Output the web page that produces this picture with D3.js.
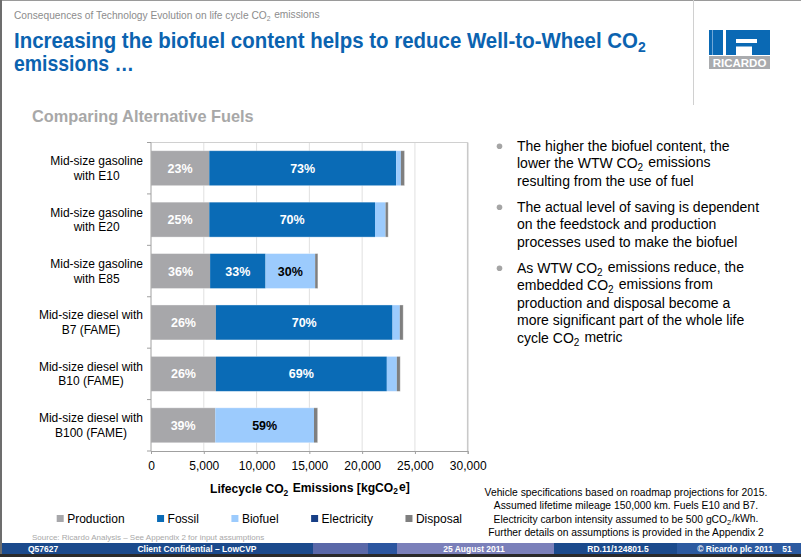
<!DOCTYPE html>
<html><head><meta charset="utf-8">
<script src="https://cdn.jsdelivr.net/npm/d3@7"></script>
<style>
html,body{margin:0;padding:0;background:#fff;}
svg{display:block;font-family:"Liberation Sans",Arial,sans-serif;}
</style></head>
<body><svg id="c" width="801" height="557"></svg>
<script>
// ---------- data ----------
const categories = [
  "Mid-size gasoline|with E10",
  "Mid-size gasoline|with E20",
  "Mid-size gasoline|with E85",
  "Mid-size diesel with|B7 (FAME)",
  "Mid-size diesel with|B10 (FAME)",
  "Mid-size diesel with|B100 (FAME)"
];
const production  = [5520, 5520, 5600, 6150, 6150, 6090];
const fossil      = [17700, 15700, 5250, 16730, 16190, 0];
const biofuel     = [450, 1000, 4700, 690, 950, 9350];
const electricity = [0, 0, 0, 0, 0, 0];
const disposal    = [350, 250, 260, 320, 320, 350];
const productionLabels = ["23%", "25%", "36%", "26%", "26%", "39%"];
const fossilLabels     = ["73%", "70%", "33%", "70%", "69%", ""];
const biofuelLabels    = ["", "", "30%", "", "", "59%"];
const seriesNames = ["Production", "Fossil", "Biofuel", "Electricity", "Disposal"];
const seriesColors = ["#a7a7aa", "#0a6bb6", "#9ccbfd", "#173f86", "#7f7f7f"];
const xTicks = [0, 5000, 10000, 15000, 20000, 25000, 30000];
const bullets = [
  ["The higher the biofuel content, the", "lower the WTW CO{2} emissions", "resulting from the use of fuel"],
  ["The actual level of saving is dependent", "on the feedstock and production", "processes used to make the biofuel"],
  ["As WTW CO{2} emissions reduce, the", "embedded CO{2} emissions from", "production and disposal become a", "more significant part of the whole life", "cycle CO{2} metric"]
];
const notes = [
  "Vehicle specifications based on roadmap projections for 2015.",
  "Assumed lifetime mileage 150,000 km.  Fuels E10 and B7.",
  "Electricity carbon intensity assumed to be 500 gCO{2}/kWh.",
  "Further details on assumptions is provided in the Appendix 2"
];
const footer = ["Q57627", "Client Confidential – LowCVP", "25 August 2011", "RD.11/124801.5", "© Ricardo plc 2011", "51"];

// ---------- helpers ----------
const svg = d3.select("#c");
function richText(sel, str, subSize) {
  const parts = str.split(/(\{[^}]*\})/);
  parts.forEach(p => {
    if (!p) return;
    if (p[0] === "{") {
      sel.append("tspan").attr("dy", "0.3em").attr("font-size", subSize).text(p.slice(1, -1));
      sel.append("tspan").attr("dy", "-0.3em").text("\u200A");
    } else sel.append("tspan").text(p);
  });
  return sel;
}
function fitWidth(sel, x0, target) {
  const w = sel.node().getBBox().width;
  if (w > 0) {
    const k = target / w;
    sel.attr("transform", `translate(${x0},0) scale(${k},1) translate(${-x0},0)`);
  }
}

// ---------- frame / header ----------
svg.append("rect").attr("x", 0).attr("y", 0).attr("width", 801).attr("height", 1).attr("fill", "#9a9a9a");
svg.append("rect").attr("x", 0).attr("y", 0).attr("width", 2).attr("height", 557).attr("fill", "#6d6d6d");
svg.append("line").attr("x1", 693.5).attr("x2", 693.5).attr("y1", 0).attr("y2", 105).attr("stroke", "#d0d0d0");

const sub = svg.append("text").attr("x", 14).attr("y", 19).attr("font-size", 10.5).attr("fill", "#8c8c8c");
richText(sub, "Consequences of Technology Evolution on life cycle CO{2} emissions", 7);
fitWidth(sub, 14, 306);

const t1 = svg.append("text").attr("x", 14).attr("y", 48).attr("font-size", 22).attr("font-weight", "bold")
  .attr("fill", "#0b63b0").attr("font-family", "'Liberation Sans Narrow','Arial Narrow','Liberation Sans',Arial,sans-serif");
richText(t1, "Increasing the biofuel content helps to reduce Well-to-Wheel CO{2}", 15);
fitWidth(t1, 14, 634);
const t2 = svg.append("text").attr("x", 14).attr("y", 71).attr("font-size", 22).attr("font-weight", "bold")
  .attr("fill", "#0b63b0").attr("font-family", "'Liberation Sans Narrow','Arial Narrow','Liberation Sans',Arial,sans-serif")
  .text("emissions …");
fitWidth(t2, 14, 120);

// logo
const logo = svg.append("g");
logo.append("rect").attr("x", 709).attr("y", 30).attr("width", 61).attr("height", 25).attr("fill", "#0a69b4");
logo.append("rect").attr("x", 723).attr("y", 30).attr("width", 3).attr("height", 25).attr("fill", "#fff");
logo.append("rect").attr("x", 712).attr("y", 30).attr("width", 0.8).attr("height", 25).attr("fill", "#8db8e0");
logo.append("rect").attr("x", 736).attr("y", 39).attr("width", 21).attr("height", 4).attr("fill", "#fff");
logo.append("rect").attr("x", 736).attr("y", 46.5).attr("width", 16).attr("height", 8.5).attr("fill", "#fff");
logo.append("rect").attr("x", 709).attr("y", 56).attr("width", 61).attr("height", 13).attr("fill", "#a9abae");
logo.append("text").attr("x", 739.5).attr("y", 66.5).attr("text-anchor", "middle").attr("font-size", 11.5)
  .attr("font-weight", "bold").attr("fill", "#fff").attr("font-family", "'Liberation Sans Narrow','Liberation Sans',Arial")
  .text("RICARDO");

const h = svg.append("text").attr("x", 32).attr("y", 122).attr("font-size", 16).attr("font-weight", "bold")
  .attr("fill", "#a8a8a8").text("Comparing Alternative Fuels");
fitWidth(h, 32, 222);

// ---------- chart ----------
const x = d3.scaleLinear().domain([0, 30000]).range([151, 467.7]);
const y = d3.scaleBand().domain(categories).range([142.5, 451]).paddingInner(0.32).paddingOuter(0.16);

svg.append("g").selectAll("line").data(xTicks.slice(1)).join("line")
  .attr("x1", d => x(d)).attr("x2", d => x(d)).attr("y1", 142.5).attr("y2", 451)
  .attr("stroke", d => d === 30000 ? "#c9c9c9" : "#e0e0e0").attr("stroke-width", d => d === 30000 ? 1.6 : 1);
svg.append("line").attr("x1", 151).attr("x2", 468).attr("y1", 142.5).attr("y2", 142.5).attr("stroke", "#d0d0d0");

const rows = categories.map((c, i) => ({cat: c, vals: [production[i], fossil[i], biofuel[i], electricity[i], disposal[i]]}));
const stack = d3.stack().keys(d3.range(5)).value((d, k) => d.vals[k]);
const stacked = stack(rows);
const barG = svg.append("g");
stacked.forEach((layer, k) => {
  barG.append("g").selectAll("rect").data(layer).join("rect")
    .attr("x", d => x(d[0])).attr("width", d => x(d[1]) - x(d[0]))
    .attr("y", d => y(d.data.cat)).attr("height", y.bandwidth())
    .attr("fill", seriesColors[k]);
});
barG.append("g").selectAll("rect").data(rows).join("rect")
  .attr("x", x(0)).attr("y", d => y(d.cat))
  .attr("width", d => x(d3.sum(d.vals)) - x(0)).attr("height", y.bandwidth())
  .attr("fill", "none").attr("stroke", "rgba(255,255,255,0.45)").attr("stroke-width", 0.8);

const labelSets = [productionLabels, fossilLabels, biofuelLabels];
const labelColors = ["#fff", "#fff", "#000"];
labelSets.forEach((labels, k) => {
  svg.append("g").selectAll("text").data(stacked[k]).join("text")
    .attr("x", d => (x(d[0]) + x(d[1])) / 2).attr("y", d => y(d.data.cat) + y.bandwidth() / 2 + 4.5)
    .attr("text-anchor", "middle").attr("font-size", 12.5).attr("font-weight", "bold")
    .attr("fill", labelColors[k]).text((d, i) => labels[i]);
});

svg.append("line").attr("x1", 151).attr("x2", 151).attr("y1", 142.5).attr("y2", 451).attr("stroke", "#a0a0a0");
svg.append("g").selectAll("line").data(d3.range(categories.length + 1)).join("line")
  .attr("x1", 147).attr("x2", 151)
  .attr("y1", i => 142.5 + i * y.step()).attr("y2", i => 142.5 + i * y.step())
  .attr("stroke", "#a0a0a0");
const catG = svg.append("g");
categories.forEach(c => {
  const lines = c.split("|");
  const g = catG.append("g");
  const texts = lines.map((ln, j) => g.append("text").attr("font-size", 12).attr("fill", "#000")
    .attr("text-anchor", "middle").attr("y", y(c) + y.bandwidth() / 2 - 3 + j * 14.5).text(ln));
  const maxW = d3.max(texts, t => t.node().getComputedTextLength());
  texts.forEach(t => t.attr("x", 143 - maxW / 2));
});

const xAxis = d3.axisBottom(x).tickValues(xTicks).tickSize(3).tickFormat(d3.format(","));
const xg = svg.append("g").attr("transform", "translate(0,451)").call(xAxis);
xg.select(".domain").attr("stroke", "#a0a0a0");
xg.selectAll(".tick line").attr("stroke", "#a0a0a0");
xg.selectAll(".tick text").attr("font-size", 12).attr("fill", "#000").attr("dy", "1.1em")
  .attr("font-family", "'Liberation Sans',Arial,sans-serif");

const xt = svg.append("text").attr("x", 210).attr("y", 493)
  .attr("font-size", 13).attr("font-weight", "bold").attr("fill", "#000");
richText(xt, "Lifecycle CO{2} Emissions [kgCO{2}e]", 9);
fitWidth(xt, 210, 200);

let lx = 56.7;
const legG = svg.append("g");
seriesNames.forEach((name, k) => {
  legG.append("rect").attr("x", lx).attr("y", 515).attr("width", 7).attr("height", 7).attr("fill", seriesColors[k]);
  const t = legG.append("text").attr("x", lx + 10.5).attr("y", 522.7).attr("font-size", 12).attr("fill", "#000").text(name);
  lx += 10.5 + t.node().getComputedTextLength() + 32.5;
});

let by = 150.7;
bullets.forEach((b, i) => {
  svg.append("circle").attr("cx", 499.5).attr("cy", by - 4.5).attr("r", 2.8).attr("fill", "#a5a5a5");
  b.forEach((ln, j) => {
    const t = svg.append("text").attr("x", 517).attr("y", by).attr("font-size", 14).attr("fill", "#000");
    richText(t, ln, 10);
    by += 17.5;
  });
  by += 8.5;
});

notes.forEach((n, i) => {
  const t = svg.append("text").attr("x", 626).attr("y", 496 + i * 13.3).attr("text-anchor", "middle")
    .attr("font-size", 10.3).attr("fill", "#000");
  richText(t, n, 7.5);
});

svg.append("text").attr("x", 32).attr("y", 540).attr("font-size", 8).attr("fill", "#a8a8a8")
  .text("Source: Ricardo Analysis – See Appendix 2 for input assumptions");

const segs = [[2, 313, "#1b4a8c"], [313, 368, "#5a68a8"], [368, 397, "#2c56a0"], [397, 554, "#7b80ba"], [554, 677, "#1b4a8c"], [677, 801, "#2c5aa0"]];
svg.append("g").selectAll("rect").data(segs).join("rect")
  .attr("x", d => d[0]).attr("width", d => d[1] - d[0]).attr("y", 543).attr("height", 11).attr("fill", d => d[2]);
svg.append("rect").attr("x", 0).attr("y", 554).attr("width", 801).attr("height", 3).attr("fill", "#2a2a2a");
const fpos = [[28, "start"], [197, "middle"], [474, "middle"], [618, "middle"], [735, "middle"], [787, "middle"]];
svg.append("g").selectAll("text").data(footer).join("text")
  .attr("x", (d, i) => fpos[i][0]).attr("text-anchor", (d, i) => fpos[i][1])
  .attr("y", 551.5).attr("font-size", 8.5).attr("font-weight", "bold").attr("fill", "#fff").text(d => d);
</script></body></html>
